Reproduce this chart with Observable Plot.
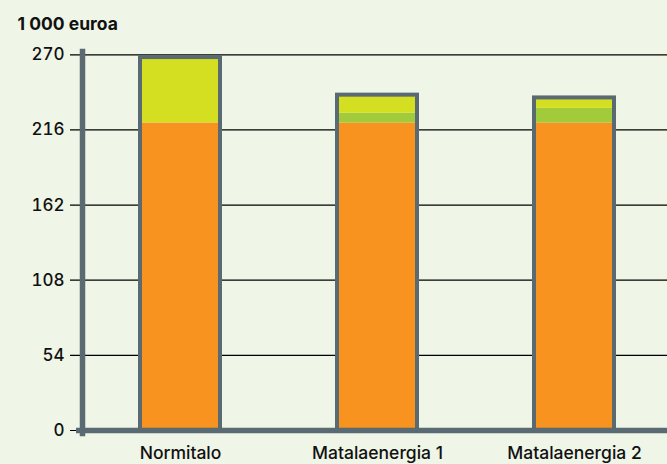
<!DOCTYPE html>
<html>
<head>
<meta charset="utf-8">
<script src="https://cdn.jsdelivr.net/npm/d3@7"></script>
<script src="https://cdn.jsdelivr.net/npm/@observablehq/plot@0.6"></script>
<style>
  html, body { margin: 0; padding: 0; background: #eff5e7; }
</style>
</head>
<body>
<div id="chart"></div>
<script>
const categories = ["Normitalo", "Matalaenergia 1", "Matalaenergia 2"];
const parts = ["Perus", "Lisä A", "Lisä B"];
const baseValues = [221, 221, 221];
const greenValues = [0, 7, 10.5];
const yellowValues = [47, 13, 7.5];
const yTicks = [0, 54, 108, 162, 216, 270];
const partColors = ["#f7931e", "#a2cb3b", "#d5df22"];

const rows = [];
categories.forEach((c, i) => {
  rows.push({cat: c, part: parts[0], value: baseValues[i]});
  rows.push({cat: c, part: parts[1], value: greenValues[i]});
  rows.push({cat: c, part: parts[2], value: yellowValues[i]});
});
const totals = categories.map((c, i) => ({cat: c, total: baseValues[i] + greenValues[i] + yellowValues[i]}));

const axisGray = "#5a6a72";
const font = "Inter, 'Liberation Sans', Arial, sans-serif";

const chart = Plot.plot({
  width: 667,
  height: 464,
  marginTop: 51,
  marginBottom: 31,
  marginLeft: 70,
  marginRight: 0,
  style: {background: "#eff5e7", fontFamily: font, color: "#111"},
  x: {domain: categories, range: [81.5, 672.5], paddingInner: 0.594, paddingOuter: 0.297, axis: null},
  y: {domain: [0, 270], range: [430, 54.3], axis: null},
  color: {domain: parts, range: partColors},
  marks: [
    Plot.ruleY(yTicks, {stroke: "#000", strokeWidth: 1.2}),
    Plot.axisY({ticks: yTicks, tickSize: 0, tickPadding: 6, fontSize: 17, fontWeight: 500, tickFormat: d => String(d)}),
    Plot.barY(rows, {x: "cat", y: "value", fill: "part"}),
    Plot.barY(totals, {x: "cat", y: "total", fill: "none", stroke: axisGray, strokeWidth: 4}),
    Plot.ruleY([0], {stroke: axisGray, strokeWidth: 5.5, insetLeft: 6}),
    Plot.frame({anchor: "left", dx: 12, stroke: axisGray, strokeWidth: 5.5}),
    Plot.axisX({tickSize: 0, tickPadding: 13, fontSize: 17.5, fontWeight: 500, label: null}),
    Plot.text(["1 000 euroa"], {frameAnchor: "top-left", text: d => d, dx: -53, dy: -22, lineAnchor: "bottom", textAnchor: "start", fontSize: 17.5, fontWeight: "bold"})
  ]
});
document.getElementById("chart").appendChild(chart);
</script>
</body>
</html>
